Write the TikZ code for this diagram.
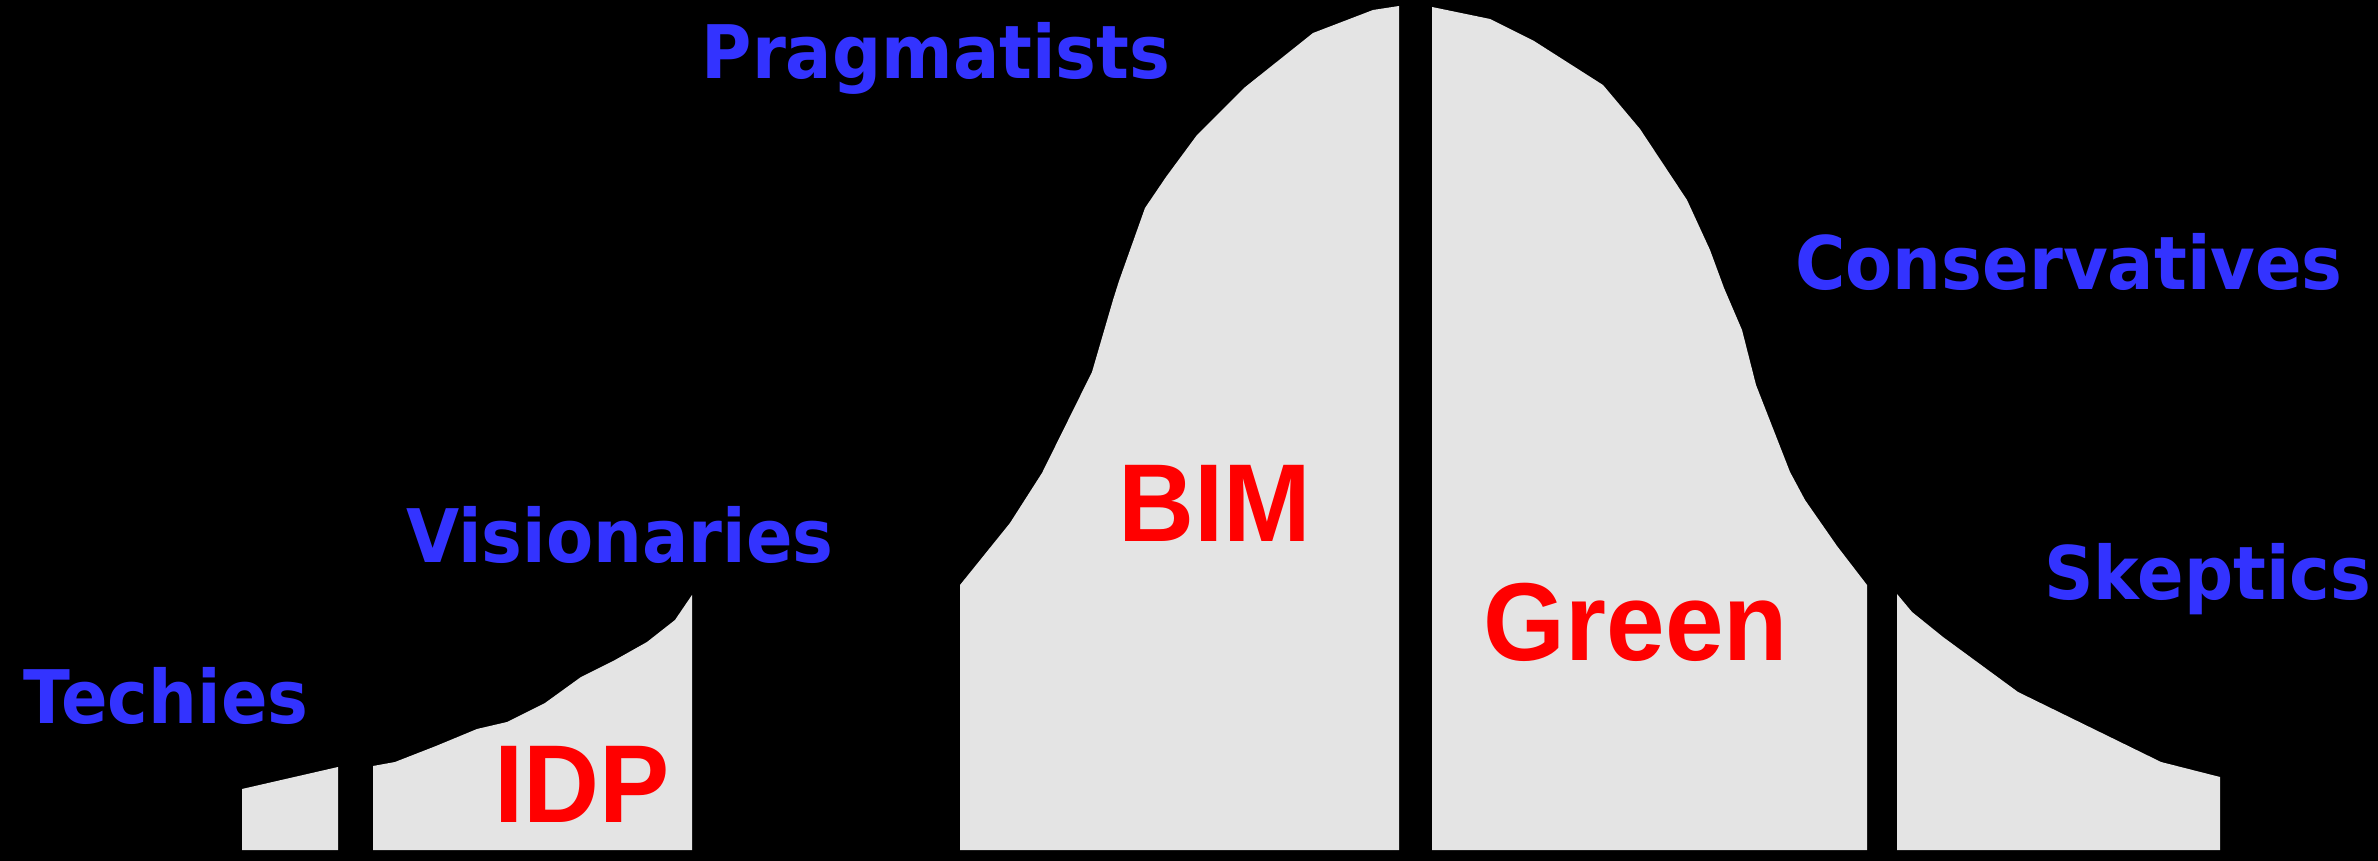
\documentclass[tikz,border=0pt]{standalone}
\usepackage{fontspec}
\newfontfamily\labfont[FakeStretch=0.93]{DejaVu Sans}
\newfontfamily\redfont[FakeStretch=0.95]{Liberation Sans}
\definecolor{lblblue}{RGB}{51,51,255}
\definecolor{lblred}{RGB}{255,0,0}
\definecolor{areafill}{RGB}{228,228,228}
\tikzset{
  area/.style={fill=areafill, draw=none},
  group/.style={text=lblblue, font=\labfont\bfseries\fontsize{21}{25}\selectfont, inner sep=0pt},
  tech/.style={text=lblred, font=\redfont\bfseries\fontsize{31.5}{36}\selectfont, inner sep=0pt}
}
\begin{document}
\begin{tikzpicture}[x=0.01cm, y=-0.01cm]
\fill[black] (0,0) rectangle (2378,861);
\useasboundingbox (0,0) rectangle (2378,861);
% Techies segment
\path[area] (242,850) -- (242,789) -- (338,767) -- (338,850) -- cycle;
% IDP segment
\path[area] (373,850) -- (373,766) -- (395,762) -- (436,746) -- (477,729) -- (507,722)
  -- (545,703) -- (581,677) -- (615,660) -- (647,642) -- (675,620) -- (692,595) -- (692,850) -- cycle;
% BIM segment
\path[area] (960,850) -- (960,585) -- (1010,523) -- (1042,473) -- (1092,372) -- (1113,300)
  -- (1119,281) -- (1145,208) -- (1166,177) -- (1197,135) -- (1244,88) -- (1313,33)
  -- (1373,10) -- (1399,6) -- (1399,850) -- cycle;
% Green segment
\path[area] (1432,850) -- (1432,7) -- (1490,19) -- (1534,41) -- (1603,85) -- (1640,129)
  -- (1687,200) -- (1710,250) -- (1724,288) -- (1742,330) -- (1756,385) -- (1790,472) -- (1805,500)
  -- (1837,546) -- (1867,585) -- (1867,850) -- cycle;
% Skeptics segment
\path[area] (1897,850) -- (1897,594) -- (1912,612) -- (1943,637) -- (2018,692)
  -- (2161,762) -- (2220,777) -- (2220,850) -- cycle;
% labels
\node[group] (prag) at (936,58) {Pragmatists};
\node[group] (cons) at (2069,262) {Conservatives};
\node[group] (vis) at (620,535) {Visionaries};
\node[group] (tech) at (166,696) {Techies};
\node[group] (skep) at (2208,579) {Skeptics};
\node[tech] (bim) at (1215,503) {BIM};
\node[tech] (green) at (1636,622) {Green};
\node[tech] (idp) at (582,784) {IDP};
\end{tikzpicture}
\end{document}
